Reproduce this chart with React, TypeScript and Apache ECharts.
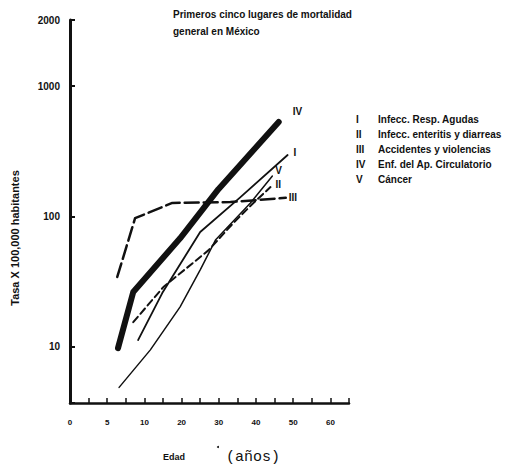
import React, { useEffect, useRef } from "react";
import * as echarts from "echarts";

// x positions are in axis units (one unit per labelled tick)
const xTickLabels = ["0", "5", "10", "20", "30", "40", "50", "60"];
const yTopLabel = "2000";
const yAxisTitle = "Tasa X 100,000 habitantes";

const ivX = [1.29, 1.7, 2.96, 3.99, 5.61];
const ivY = [9.8, 26.4, 68, 162, 530];

const iX = [1.83, 2.48, 3.5, 4.56, 5.85];
const iY = [11.3, 25.9, 76, 139, 296];

const iiX = [1.7, 2.51, 3.72, 4.39, 4.93, 5.39];
const iiY = [15.5, 28.8, 55, 89, 127, 168];

const vX = [1.32, 2.16, 2.96, 3.5, 3.91, 4.85, 5.44];
const vY = [4.9, 9.5, 20.3, 39, 66, 127, 204];

const iiiX = [1.27, 1.75, 2.75, 4.31, 5.8];
const iiiY = [34.4, 97, 127, 129, 139];

const legendNumerals = ["I", "II", "III", "IV", "V"];
const legendTexts = [
  "Infecc. Resp. Agudas",
  "Infecc. enteritis y diarreas",
  "Accidentes y violencias",
  "Enf. del Ap. Circulatorio",
  "Cáncer",
];

const titleLines = ["Primeros cinco lugares de mortalidad", "general en México"];

const zip = (xs: number[], ys: number[]) => xs.map((x, i) => [x, ys[i]]);

const FONT = "Liberation Sans";
const INK = "#111";

export default function App() {
  const ref = useRef<HTMLDivElement>(null);
  useEffect(() => {
    document.body.style.margin = "0";
    const chart = echarts.init(ref.current!, null, { renderer: "svg" });
    const mkLine = (
      name: string,
      xs: number[],
      ys: number[],
      width: number,
      type: any,
      labelOffset: number[]
    ) => ({
      type: "line",
      name,
      color: INK,
      data: zip(xs, ys),
      showSymbol: false,
      symbol: "none",
      itemStyle: { color: INK },
      lineStyle: { color: INK, width, type, cap: "round", join: "round" },
      endLabel: {
        show: true,
        formatter: name,
        color: INK,
        textBorderWidth: 0,
        textShadowBlur: 0,
        fontFamily: FONT,
        fontWeight: "bold",
        fontSize: 10,
        offset: labelOffset,
      },
    });
    const graphics: any[] = [];
    titleLines.forEach((t, i) => {
      graphics.push({
        type: "text",
        left: 173,
        top: 9 + i * 17,
        style: { text: t, fill: INK, font: `bold 10px "${FONT}"` },
      });
    });
    legendNumerals.forEach((n, i) => {
      graphics.push({
        type: "text",
        left: 356,
        top: 114 + i * 15,
        style: { text: n, fill: INK, font: `bold 10px "${FONT}"` },
      });
      graphics.push({
        type: "text",
        left: 378,
        top: 114 + i * 15,
        style: { text: legendTexts[i], fill: INK, font: `bold 10px "${FONT}"` },
      });
    });
    graphics.push({
      type: "text",
      x: 15,
      y: 238,
      rotation: Math.PI / 2,
      style: {
        text: yAxisTitle,
        fill: INK,
        font: `bold 11px "${FONT}"`,
        align: "center",
        verticalAlign: "middle",
      },
    });
    graphics.push({
      type: "text",
      left: 163,
      top: 452,
      style: { text: "Edad", fill: INK, font: `bold 9px "${FONT}"` },
    });
    graphics.push({
      type: "text",
      left: 226,
      top: 450,
      style: { text: "(años)", fill: INK, font: `15px "Liberation Mono"` },
    });
    graphics.push({
      type: "circle",
      shape: { cx: 218, cy: 447, r: 1 },
      style: { fill: INK },
    });

    chart.setOption({
      animation: false,
      backgroundColor: "#fff",
      color: [INK],
      grid: { left: 70, right: 161, top: 20, bottom: 71 },
      xAxis: {
        type: "value",
        min: 0,
        max: 7.5,
        interval: 1,
        axisLine: { lineStyle: { color: INK, width: 2.5 } },
        axisTick: { show: true, inside: true, length: 5, lineStyle: { color: INK, width: 1.5 } },
        minorTick: { show: true, splitNumber: 2, length: 5, lineStyle: { color: INK, width: 1.5 } },
        splitLine: { show: false },
        minorSplitLine: { show: false },
        axisLabel: {
          color: INK,
          fontFamily: FONT,
          fontWeight: "bold",
          fontSize: 8,
          margin: 15,
          formatter: (v: number) =>
            Number.isInteger(v) && v < xTickLabels.length ? xTickLabels[v] : "",
        },
      },
      yAxis: {
        type: "log",
        min: 3.72,
        max: 3206,
        logBase: 10,
        axisLine: { show: true, lineStyle: { color: INK, width: 3 } },
        axisTick: { show: true, inside: true, length: 5, lineStyle: { color: INK, width: 2 } },
        splitLine: { show: false },
        axisLabel: {
          color: INK,
          fontFamily: FONT,
          fontWeight: "bold",
          fontSize: 10,
          margin: 10,
          formatter: (v: number) => {
            if (v > 2500) return yTopLabel;
            if (v < 5) return "";
            return String(Math.round(v));
          },
        },
      },
      series: [
        mkLine("IV", ivX, ivY, 6, "solid", [6, -10]),
        mkLine("I", iX, iY, 1.8, "solid", [-2, -2]),
        mkLine("II", iiX, iiY, 2, [7, 4], [-3, -3]),
        mkLine("III", iiiX, iiiY, 2.5, [14, 5], [-5, 0]),
        mkLine("V", vX, vY, 1.5, "solid", [-5, -6]),
      ],
      graphic: graphics,
    });
    return () => chart.dispose();
  }, []);
  return <div ref={ref} style={{ width: 510, height: 474 }} />;
}
